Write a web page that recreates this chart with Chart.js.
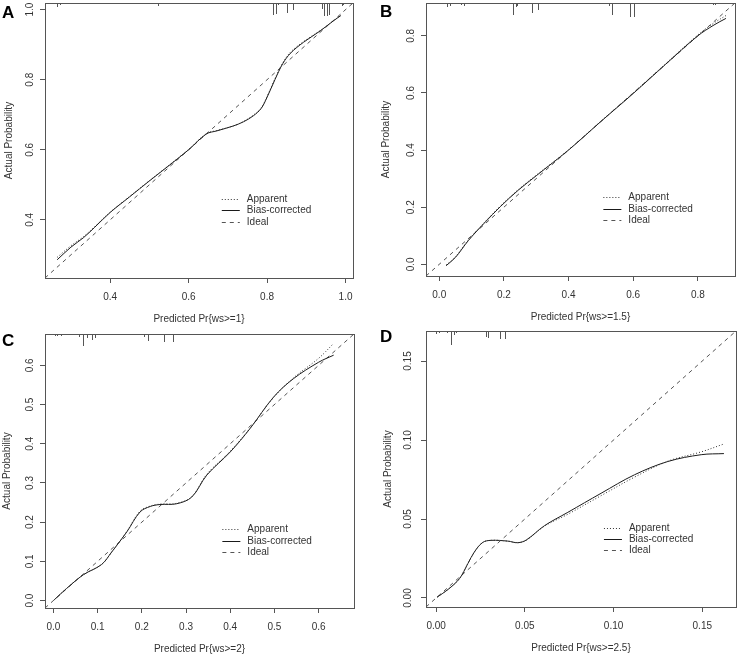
<!DOCTYPE html>
<html><head><meta charset="utf-8">
<script src="https://cdn.jsdelivr.net/npm/chart.js@4.4.1/dist/chart.umd.min.js"></script>
<style>
html,body{margin:0;padding:0;background:#fff;width:737px;height:655px;overflow:hidden;position:relative;}
canvas{position:absolute;}
.lab{position:absolute;font:bold 17px "Liberation Sans",Arial,sans-serif;color:#000;line-height:1;}
</style></head><body>
<canvas id="cA" width="368" height="325" style="left:0;top:0"></canvas>
<canvas id="cB" width="369" height="325" style="left:368px;top:0"></canvas>
<canvas id="cC" width="368" height="330" style="left:0;top:325px"></canvas>
<canvas id="cD" width="369" height="330" style="left:368px;top:325px"></canvas>
<div class="lab" style="left:2px;top:4px">A</div>
<div class="lab" style="left:380px;top:3px">B</div>
<div class="lab" style="left:2px;top:332px">C</div>
<div class="lab" style="left:380px;top:328px">D</div>
<script>
// ---------- Panel A ----------
const A_limits = [0.234, 1.019];
const A_ticks = [0.4, 0.6, 0.8, 1.0];
const A_x = [0.265,0.30,0.332,0.36,0.40,0.45,0.50,0.55,0.60,0.645,0.672,0.714,0.74,0.765,0.785,0.80,0.82,0.84,0.86,0.893,0.935,0.969,0.988];
const A_bias = [0.286,0.322,0.349,0.378,0.421,0.466,0.511,0.555,0.600,0.645,0.654,0.668,0.680,0.697,0.718,0.750,0.800,0.846,0.876,0.907,0.939,0.968,0.983];
const A_app  = [0.293,0.326,0.352,0.380,0.422,0.467,0.512,0.556,0.601,0.646,0.655,0.668,0.681,0.699,0.720,0.752,0.803,0.848,0.879,0.909,0.940,0.968,0.985];
const A_rugX = [0.264,0.271,0.489,0.523,0.774,0.816,0.823,0.829,0.850,0.867,0.939,0.945,0.952,0.958,0.990,0.994];
const A_rugN = [4,2,1,3,1,12,11,2,10,7,6,13,13,12,3,2];

// ---------- Panel B ----------
const B_limits = [-0.041, 0.915];
const B_ticks = [0.0, 0.2, 0.4, 0.6, 0.8];
const B_x = [0.021,0.05,0.09,0.14,0.19,0.245,0.30,0.40,0.50,0.60,0.70,0.80,0.85,0.887];
const B_bias = [-0.005,0.024,0.083,0.145,0.203,0.260,0.310,0.400,0.500,0.598,0.700,0.800,0.838,0.861];
const B_app  = [-0.003,0.026,0.085,0.147,0.205,0.262,0.312,0.401,0.501,0.600,0.702,0.803,0.845,0.871];
const B_rugX = [0.024,0.032,0.068,0.076,0.195,0.228,0.236,0.242,0.288,0.305,0.524,0.533,0.590,0.603,0.655,0.847,0.852];
const B_rugN = [4,3,2,3,1,12,4,3,10,7,3,12,14,14,1,2,2];

// ---------- Panel C ----------
const C_limits = [-0.019, 0.68];
const C_ticks = [0.0, 0.1, 0.2, 0.3, 0.4, 0.5, 0.6];
const C_x = [0.002,0.03,0.068,0.109,0.132,0.166,0.196,0.219,0.241,0.279,0.313,0.347,0.40,0.445,0.498,0.543,0.60,0.634];
const C_bias = [0.002,0.031,0.066,0.092,0.124,0.175,0.226,0.240,0.245,0.247,0.264,0.320,0.379,0.439,0.519,0.566,0.608,0.626];
const C_app  = [0.002,0.031,0.066,0.092,0.124,0.176,0.228,0.241,0.246,0.248,0.265,0.322,0.381,0.440,0.518,0.568,0.618,0.656];
const C_rugX = [0.004,0.009,0.017,0.057,0.068,0.077,0.087,0.093,0.204,0.215,0.251,0.271,0.336,0.588];
const C_rugN = [2,2,2,3,12,4,6,4,3,7,8,8,1,1];

// ---------- Panel D ----------
const D_limits = [-0.0057, 0.169];
const D_ticks = [0.00, 0.05, 0.10, 0.15];
const D_x = [0.0005,0.0066,0.0132,0.0179,0.0216,0.0263,0.031,0.0404,0.046,0.0508,0.0611,0.0742,0.093,0.1118,0.1306,0.1494,0.1622];
const D_bias = [0.0005,0.0053,0.0123,0.0218,0.0292,0.0352,0.0365,0.0360,0.0350,0.0367,0.0458,0.0542,0.0663,0.0780,0.0864,0.0907,0.0914];
const D_app  = [0.0005,0.0053,0.0123,0.0218,0.0292,0.0352,0.0365,0.0360,0.0350,0.0365,0.0455,0.0530,0.0648,0.0765,0.0866,0.0925,0.0975];
const D_rugX = [0.0002,0.0017,0.0064,0.0086,0.0101,0.0111,0.0283,0.0292,0.0358,0.0390,0.0489,0.123];
const D_rugN = [3,2,2,14,4,2,6,7,8,8,1,1];

const seriesNames = ['Apparent', 'Bias-corrected', 'Ideal'];
const FONT = '"Liberation Sans", Arial, sans-serif';
Chart.defaults.font.family = FONT;
Chart.defaults.font.size = 10;

const calPlugin = {
  id: 'cal',
  afterDatasetsDraw(chart, args, o) {
    const {ctx, chartArea: a, scales: {x}} = chart;
    ctx.save();
    ctx.strokeStyle = '#555'; ctx.lineWidth = 1; ctx.setLineDash([]);
    o.rugX.forEach((v, i) => {
      const px = Math.round(x.getPixelForValue(v)) + 0.5;
      ctx.beginPath(); ctx.moveTo(px, a.top); ctx.lineTo(px, a.top + o.rugN[i]); ctx.stroke();
    });
    ctx.strokeRect(Math.round(a.left) + 0.5, Math.round(a.top) + 0.5, Math.round(a.right - a.left), Math.round(a.bottom - a.top));
    const w = a.right - a.left, h = a.bottom - a.top;
    const lx = a.left + 0.574 * w;
    const rows = [0.712, 0.754, 0.795];
    chart.data.datasets.forEach((ds, i) => {
      const yy = Math.round(a.top + rows[i] * h) + 0.5;
      ctx.strokeStyle = ds.borderColor; ctx.lineWidth = 1;
      ctx.setLineDash(ds.borderDash || []);
      ctx.beginPath(); ctx.moveTo(lx, yy); ctx.lineTo(lx + 18, yy); ctx.stroke();
      ctx.setLineDash([]);
      ctx.fillStyle = '#333'; ctx.font = '10px ' + FONT;
      ctx.textBaseline = 'middle'; ctx.textAlign = 'left';
      ctx.fillText(ds.label, lx + 25, yy);
    });
    ctx.restore();
  }
};

function makePanel(id, cfg) {
  const pts = (xs, ys) => xs.map((v, i) => ({x: v, y: ys[i]}));
  const lim = cfg.limits;
  const setTicks = (s) => { s.ticks = cfg.ticks.map(v => ({value: v})); };
  const fmt = (v) => Number(v).toFixed(cfg.dec);
  new Chart(document.getElementById(id), {
    type: 'line',
    data: {
      datasets: [
        {label: seriesNames[0], data: pts(cfg.x, cfg.app), borderColor: '#333', borderWidth: 1, borderDash: [1, 2], pointRadius: 0, tension: 0.35},
        {label: seriesNames[1], data: pts(cfg.x, cfg.bias), borderColor: '#1a1a1a', borderWidth: 1, pointRadius: 0, tension: 0.35},
        {label: seriesNames[2], data: pts(lim, lim), borderColor: '#555', borderWidth: 1, borderDash: [4, 4], pointRadius: 0}
      ]
    },
    options: {
      responsive: false, animation: false, devicePixelRatio: 1,
      layout: {padding: cfg.pad},
      plugins: {legend: {display: false}, tooltip: {enabled: false}, cal: {rugX: cfg.rugX, rugN: cfg.rugN}},
      scales: {
        x: {
          type: 'linear', min: lim[0], max: lim[1],
          afterBuildTicks: setTicks,
          afterFit: (s) => { s.height = 47; s.paddingLeft = 0; s.paddingRight = 0; },
          ticks: {color: '#333', padding: 8, autoSkip: false, maxRotation: 0, callback: fmt, font: {size: 10}},
          grid: {drawOnChartArea: false, drawTicks: true, tickLength: 5, color: '#555'},
          border: {display: false},
          title: {display: true, text: cfg.xTitle, color: '#333', font: {size: 10}, padding: {top: 0, bottom: 0}}
        },
        y: {
          type: 'linear', min: lim[0], max: lim[1],
          afterBuildTicks: setTicks,
          afterFit: (s) => { s.width = cfg.yw; s.paddingTop = 0; s.paddingBottom = 0; },
          ticks: {color: '#333', padding: 3, autoSkip: false, minRotation: 90, maxRotation: 90, crossAlign: 'center', callback: fmt, font: {size: 10}},
          grid: {drawOnChartArea: false, drawTicks: true, tickLength: 5, color: '#555'},
          border: {display: false},
          title: {display: true, text: 'Actual Probability', color: '#333', font: {size: 10}, padding: {top: cfg.ytp, bottom: 0}}
        }
      }
    },
    plugins: [calPlugin]
  });
}

makePanel('cA', {limits: A_limits, ticks: A_ticks, dec: 1, x: A_x, bias: A_bias, app: A_app, rugX: A_rugX, rugN: A_rugN,
  xTitle: 'Predicted Pr{ws>=1}', yw: 45, ytp: 3, pad: {left: 0, right: 15, top: 3, bottom: 0}});
makePanel('cB', {limits: B_limits, ticks: B_ticks, dec: 1, x: B_x, bias: B_bias, app: B_app, rugX: B_rugX, rugN: B_rugN,
  xTitle: 'Predicted Pr{ws>=1.5}', yw: 58, ytp: 12, pad: {left: 0, right: 2, top: 3, bottom: 2}});
makePanel('cC', {limits: C_limits, ticks: C_ticks, dec: 1, x: C_x, bias: C_bias, app: C_app, rugX: C_rugX, rugN: C_rugN,
  xTitle: 'Predicted Pr{ws>=2}', yw: 45, ytp: 1, pad: {left: 0, right: 14, top: 9, bottom: 0}});
makePanel('cD', {limits: D_limits, ticks: D_ticks, dec: 2, x: D_x, bias: D_bias, app: D_app, rugX: D_rugX, rugN: D_rugN,
  xTitle: 'Predicted Pr{ws>=2.5}', yw: 58, ytp: 14, pad: {left: 0, right: 1, top: 6, bottom: 1}});
</script>
</body></html>
